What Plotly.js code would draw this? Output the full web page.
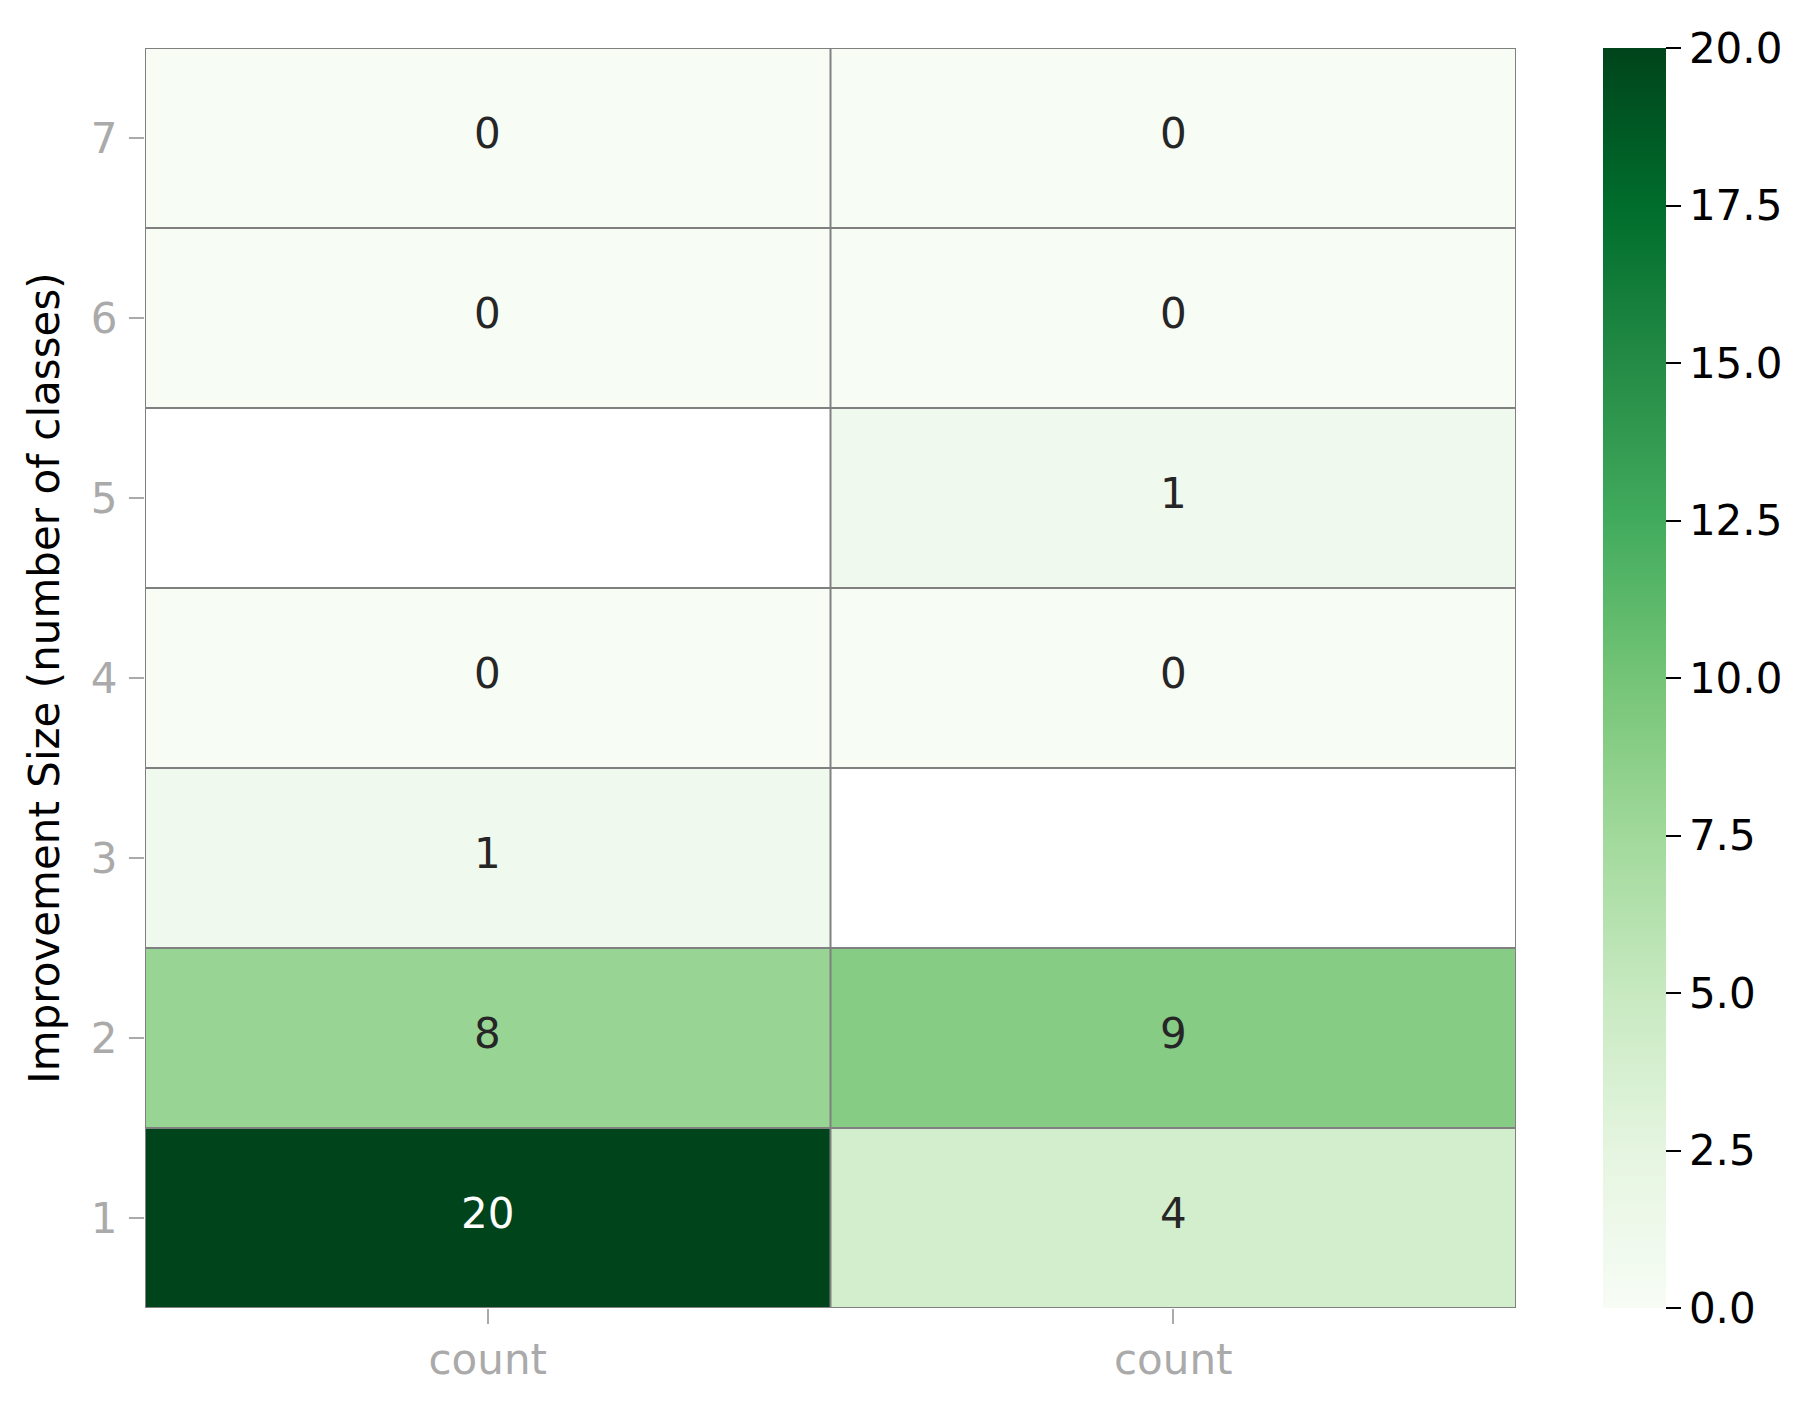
<!DOCTYPE html>
<html>
<head>
<meta charset="utf-8">
<script src="https://cdn.plot.ly/plotly-3.0.1.min.js"></script>
<style>html,body{margin:0;padding:0;background:#fff;}</style>
</head>
<body>
<div id="chart" style="width:1817px;height:1410px;"></div>
<script>
// ---- data ----
const columnLabels = ["count", "count"];
const rowLabels = [1, 2, 3, 4, 5, 6, 7];
const firstCount = [20, 8, 1, 0, null, 0, 0];
const secondCount = [4, 9, null, 0, 1, 0, 0];
const colorbarTicks = [0, 2.5, 5, 7.5, 10, 12.5, 15, 17.5, 20];

// matplotlib "Greens"
const greens = ["#f7fcf5","#e5f5e0","#c7e9c0","#a1d99b","#74c476","#41ab5d","#238b45","#006d2c","#00441b"];
const colorscale = greens.map((c, i) => [i / (greens.length - 1), c]);

const xIdx = columnLabels.map((_, i) => i);
const columns = [firstCount, secondCount];
const z = rowLabels.map((_, r) => columns.map(col => col[r]));

const zmin = 0, zmax = 20;
const FONT = "DejaVu Sans";
const FS = 42;

// annotations
const annotations = [];
rowLabels.forEach((rl, r) => {
  columns.forEach((col, c) => {
    const v = col[r];
    if (v === null) return;
    annotations.push({
      x: c, y: rl, xref: "x", yref: "y", text: String(v), showarrow: false, yshift: 5,
      font: {family: FONT, size: FS, color: (v - zmin) / (zmax - zmin) > 0.6 ? "#ffffff" : "#262626"}
    });
  });
});

// cell edge lines
const shapes = [];
const lineStyle = {color: "#808080", width: 2};
for (let c = 0; c <= columnLabels.length; c++) {
  shapes.push({type: "line", xref: "x", yref: "y", x0: c - 0.5, x1: c - 0.5,
    y0: rowLabels[0] - 0.5, y1: rowLabels[rowLabels.length - 1] + 0.5, line: lineStyle, layer: "above"});
}
for (let r = 0; r <= rowLabels.length; r++) {
  shapes.push({type: "line", xref: "x", yref: "y", x0: -0.5, x1: columnLabels.length - 0.5,
    y0: rowLabels[0] - 0.5 + r, y1: rowLabels[0] - 0.5 + r, line: lineStyle, layer: "above"});
}

const trace = {
  type: "heatmap",
  x: xIdx,
  y: rowLabels,
  z: z,
  zmin: zmin, zmax: zmax,
  colorscale: colorscale,
  hoverongaps: false,
  colorbar: {
    x: 1.0635, xanchor: "left", xpad: 0,
    y: 0.5, yanchor: "middle", ypad: 0,
    len: 1, lenmode: "fraction",
    thickness: 63, thicknessmode: "pixels",
    outlinewidth: 0,
    tickmode: "array", tickvals: colorbarTicks,
    ticktext: colorbarTicks.map(v => v.toFixed(1)),
    ticks: "outside", ticklen: 15, tickwidth: 2, tickcolor: "#000",
    ticklabelstandoff: 20,
    tickfont: {family: FONT, size: FS, color: "#000"}
  }
};

const layout = {
  width: 1817, height: 1410,
  margin: {l: 145, r: 301, t: 47.5, b: 101.5},
  paper_bgcolor: "#ffffff",
  plot_bgcolor: "#ffffff",
  font: {family: FONT},
  showlegend: false,
  xaxis: {
    range: [-0.5, columnLabels.length - 0.5],
    tickmode: "array", tickvals: xIdx, ticktext: columnLabels,
    ticks: "outside", ticklen: 15, tickwidth: 2, tickcolor: "#aaaaaa",
    ticklabelstandoff: 0,
    tickfont: {family: FONT, size: FS, color: "#aaaaaa"},
    showgrid: false, zeroline: false, showline: false, fixedrange: true
  },
  yaxis: {
    range: [rowLabels[0] - 0.5, rowLabels[rowLabels.length - 1] + 0.5],
    tickmode: "array", tickvals: rowLabels, ticktext: rowLabels.map(String),
    ticks: "outside", ticklen: 15, tickwidth: 2, tickcolor: "#aaaaaa",
    ticklabelstandoff: 3,
    tickfont: {family: FONT, size: FS, color: "#aaaaaa"},
    showgrid: false, zeroline: false, showline: false, fixedrange: true,
    title: {text: "Improvement Size (number of classes)", font: {family: FONT, size: FS, color: "#000"}, standoff: 18}
  },
  annotations: annotations,
  shapes: shapes
};

Plotly.newPlot("chart", [trace], layout, {staticPlot: true, displayModeBar: false});
</script>
</body>
</html>
